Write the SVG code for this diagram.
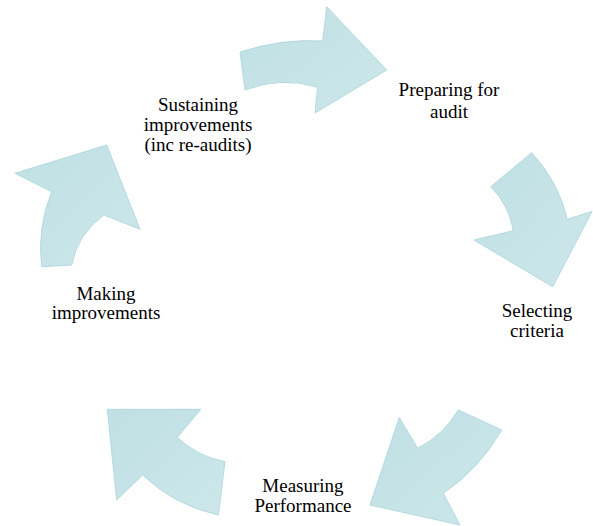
<svg xmlns="http://www.w3.org/2000/svg" width="593" height="526" viewBox="0 0 593 526">
<defs>
<linearGradient id="g" x1="0" y1="0" x2="1" y2="1">
<stop offset="0" stop-color="#bfe0e4"/>
<stop offset="1" stop-color="#cde7ea"/>
</linearGradient>
<style>
.arrow{fill:url(#g);stroke:#b3dadf;stroke-width:1;stroke-linejoin:miter}
.lbl{font-family:"Liberation Serif","Times New Roman",serif;font-size:19px;fill:#000;text-anchor:middle}
</style>
</defs>
<rect width="593" height="526" fill="#fff"/>
<g id="connectors">
<path class="arrow" d="M240,52 Q281.4,38.5 322.7,41 L326.7,6.7 L386.7,70 L315,113 L317.6,87.3 Q281.3,76 245,90 Z"/>
<path class="arrow" d="M490.7,186.7 L531.7,152.7 Q558.3,181.3 567.3,219.3 L592,211.5 L552.7,286.7 L474,240 L513.3,230.7 Q509.1,205 490.7,186.7 Z"/>
<path class="arrow" d="M458.3,410 L501.7,430 Q479.8,468.5 443.3,493.3 L460,525 L370,505 L399.3,417.7 L417.7,448.3 Q443.5,435 458.3,410 Z"/>
<path class="arrow" d="M107.3,409.3 L200.7,409.3 L177.3,437.3 Q197.6,456.6 225,461.7 L218.3,515 Q174.9,505.6 142.7,475 L116.7,500 Z"/>
<path class="arrow" d="M41.7,266.7 Q36.8,227.9 51.7,191.7 L15,173.3 L106.7,145 L140,229.3 L104,215 Q77.8,233.5 71.7,265 Z"/>
</g>
<g id="node-preparing">
<text class="lbl" x="449" y="96">Preparing for</text>
<text class="lbl" x="449" y="118">audit</text>
</g>
<g id="node-selecting">
<text class="lbl" x="537" y="317">Selecting</text>
<text class="lbl" x="537" y="337">criteria</text>
</g>
<g id="node-measuring">
<text class="lbl" x="303" y="492">Measuring</text>
<text class="lbl" x="303" y="512">Performance</text>
</g>
<g id="node-making">
<text class="lbl" x="106" y="300">Making</text>
<text class="lbl" x="106" y="319">improvements</text>
</g>
<g id="node-sustaining">
<text class="lbl" x="198" y="111">Sustaining</text>
<text class="lbl" x="198" y="131">improvements</text>
<text class="lbl" x="198" y="151">(inc re-audits)</text>
</g>
</svg>
